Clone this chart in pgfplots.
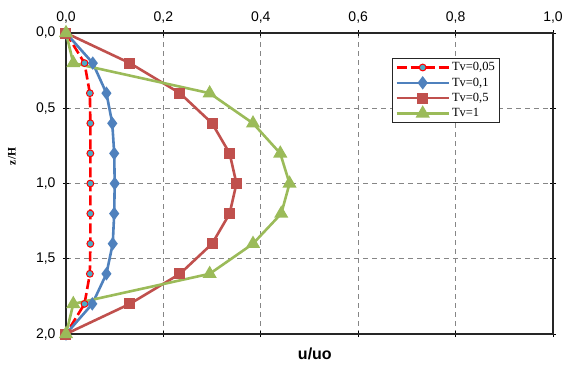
\documentclass[border=0pt]{standalone}
\usepackage{pgfplots}
\pgfplotsset{compat=1.18}
\usepackage{fontspec}
\setmainfont{Liberation Sans}
\newfontfamily\timesfont{Liberation Serif}
\definecolor{cRed}{HTML}{FF0000}
\definecolor{cAqua}{HTML}{4BACC6}
\definecolor{cBlue}{HTML}{4F81BD}
\definecolor{cDRed}{HTML}{C0504D}
\definecolor{cGreen}{HTML}{9BBB59}
\definecolor{cGrid}{HTML}{868686}
\begin{document}
\begin{tikzpicture}
\useasboundingbox (-66pt,-31pt) rectangle (499pt,334pt);
\begin{axis}[
  at={(0pt,0pt)}, anchor=south west,
  scale only axis, width=487pt, height=301pt,
  xmin=0, xmax=1, ymin=0, ymax=2,
  y dir=reverse,
  xtick={0,0.2,...,1.0}, ytick={0,0.5,1.0,1.5,2.0},
  xticklabel pos=top,
  ticklabel style={font=\fontsize{14}{16}\selectfont},
  /pgf/number format/.cd, use comma, fixed, fixed zerofill, precision=1, assume math mode=true,
  /pgfplots/.cd,
  xticklabel style={yshift=3pt},
  yticklabel style={xshift=-4pt},
  tick align=center, major tick length=6pt,
  tick style={black, line width=0.8pt},
  axis line style={line width=1.3pt, draw=black!85},
  grid=major,
  major grid style={dashed, dash pattern=on 5pt off 4pt, cGrid, line width=0.9pt},
  xlabel={\textbf{u/uo}},
  xlabel style={font=\fontsize{16}{18}\selectfont, at={(axis description cs:0.511,0)}, anchor=north, yshift=-10pt},
  ylabel={\timesfont\bfseries z/H},
  ylabel style={font=\fontsize{11.5}{13}\selectfont, at={(axis description cs:-0.111,0.59)}, anchor=center, rotate=0},
  legend style={at={(axis description cs:0.669,0.917)}, anchor=north west,
    draw=black!85, line width=1.2pt, font=\timesfont\fontsize{12.5}{14}\selectfont,
    inner xsep=3pt, inner ysep=2pt, row sep=1.5pt, cells={anchor=west}},
  legend image code/.code={\draw[line width=2.6pt, mark repeat=2,mark phase=2] plot coordinates {(0pt,0pt) (26pt,0pt) (52pt,0pt)};},
  legend cell align=left,
]
\addplot[cRed, line width=2.6pt, dash pattern=on 10pt off 4pt, mark=*, mark size=3.4pt,
  mark options={solid, fill=cAqua, draw=cRed, line width=1pt}]
  coordinates {(0,0) (0.038,0.2) (0.049,0.4) (0.05,0.6) (0.05,0.8) (0.05,1.0) (0.05,1.2) (0.05,1.4) (0.049,1.6) (0.038,1.8) (0,2.0)};
\addlegendentry{Tv=0,05}
\addplot[cBlue, line width=2.6pt, mark=diamond*, mark size=4.6pt, mark options={solid, fill=cBlue}]
  coordinates {(0,0) (0.055,0.2) (0.083,0.4) (0.095,0.6) (0.099,0.8) (0.10,1.0) (0.099,1.2) (0.096,1.4) (0.083,1.6) (0.054,1.8) (0,2.0)};
\addlegendentry{Tv=0,1}
\addplot[cDRed, line width=2.6pt, mark=square*, mark size=4.2pt, mark options={solid, fill=cDRed}]
  coordinates {(0,0) (0.131,0.2) (0.234,0.4) (0.30,0.6) (0.336,0.8) (0.35,1.0) (0.336,1.2) (0.30,1.4) (0.234,1.6) (0.131,1.8) (0,2.0)};
\addlegendentry{Tv=0,5}
\addplot[cGreen, line width=2.6pt, mark=triangle*, mark size=5.6pt, mark options={solid, fill=cGreen}]
  coordinates {(0,0) (0.015,0.2) (0.295,0.4) (0.384,0.6) (0.44,0.8) (0.459,1.0) (0.442,1.2) (0.384,1.4) (0.295,1.6) (0.015,1.8) (0,2.0)};
\addlegendentry{Tv=1}
\end{axis}
\end{tikzpicture}
\end{document}
